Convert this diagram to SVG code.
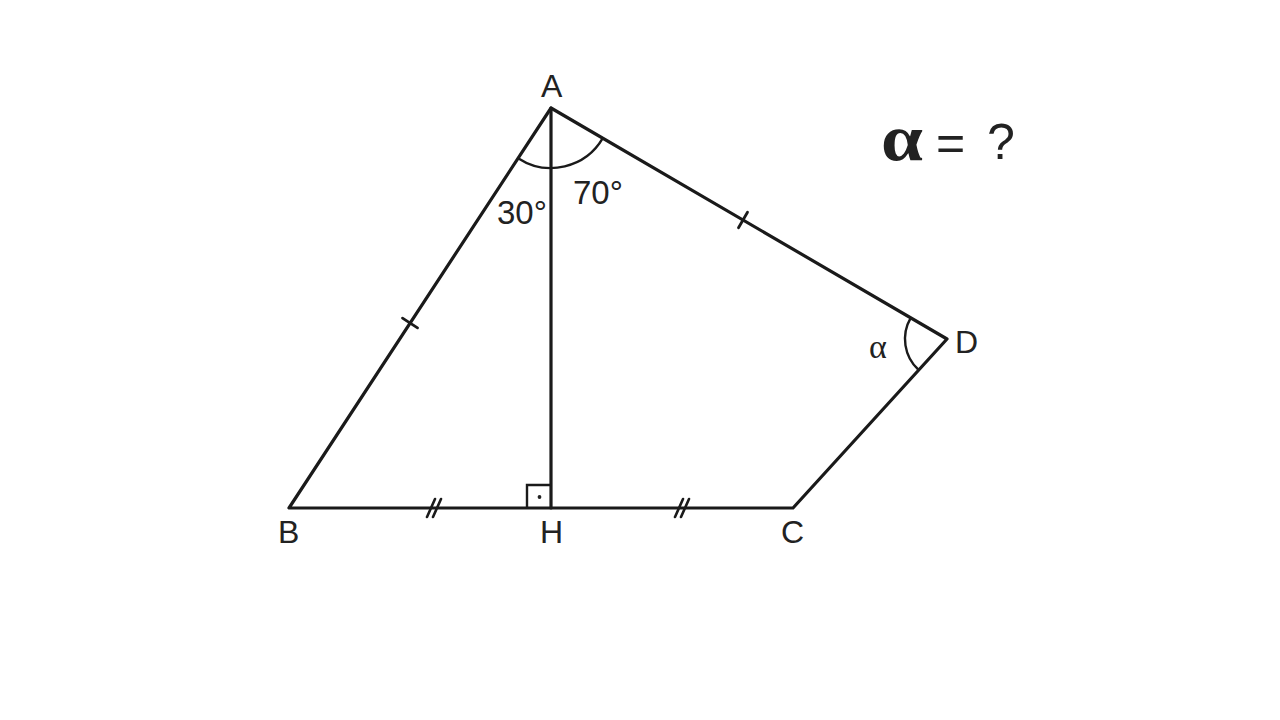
<svg xmlns="http://www.w3.org/2000/svg" width="1280" height="720" viewBox="0 0 1280 720">
<style>
.ln{stroke:#1a1a1a;stroke-width:3.2;fill:none;stroke-linecap:round;stroke-linejoin:round}
.th{stroke:#1a1a1a;stroke-width:2.4;fill:none}
.lb{font-family:"Liberation Sans",Arial,sans-serif;font-size:32px;fill:#222}
.gr{font-family:"Liberation Serif","Times New Roman",serif;fill:#222}
</style>
<rect width="1280" height="720" fill="#fff"/>
<g id="edges">
<path class="ln" d="M551,108 L289,508 L793,508 L947,339 Z"/>
<line class="ln" x1="551" y1="108" x2="551" y2="508"/>
<path class="th" d="M527,508 V485 H551"/>
<circle cx="539.5" cy="497" r="1.9" fill="#222"/>
<path class="th" d="M518.1,158.2 A60,60 0 0 0 602.8,138.2"/>
<path class="th" d="M910.7,317.8 A42,42 0 0 0 918.7,370"/>
<line class="ln" x1="402.5" y1="318.1" x2="417.5" y2="327.9" style="stroke-width:2.8"/>
<line class="ln" x1="747.5" y1="212.2" x2="738.5" y2="227.8" style="stroke-width:2.8"/>
<path class="ln" style="stroke-width:2.6" d="M427,517 L435,499 M433,517 L441,499 M675,517 L683,499 M681,517 L689,499"/>
</g>
<g id="node-A"><text class="lb" x="541" y="97">A</text></g>
<g id="node-B"><text class="lb" x="278" y="543">B</text></g>
<g id="node-H"><text class="lb" x="540" y="543">H</text></g>
<g id="node-C"><text class="lb" x="781" y="543">C</text></g>
<g id="node-D"><text class="lb" x="955" y="353">D</text></g>
<g id="angles">
<text class="lb" x="497" y="224" style="font-size:33px">30°</text>
<text class="lb" x="573" y="204" style="font-size:33px">70°</text>
<text class="gr" x="869" y="358" font-size="34">α</text>
</g>
<g id="question">
<text class="gr" x="881" y="160" font-size="66" font-weight="bold" textLength="42" lengthAdjust="spacingAndGlyphs">α</text>
<text class="lb" x="936" y="160" style="font-size:50px">=</text>
<text class="lb" x="987" y="159" style="font-size:50px">?</text>
</g>
</svg>
